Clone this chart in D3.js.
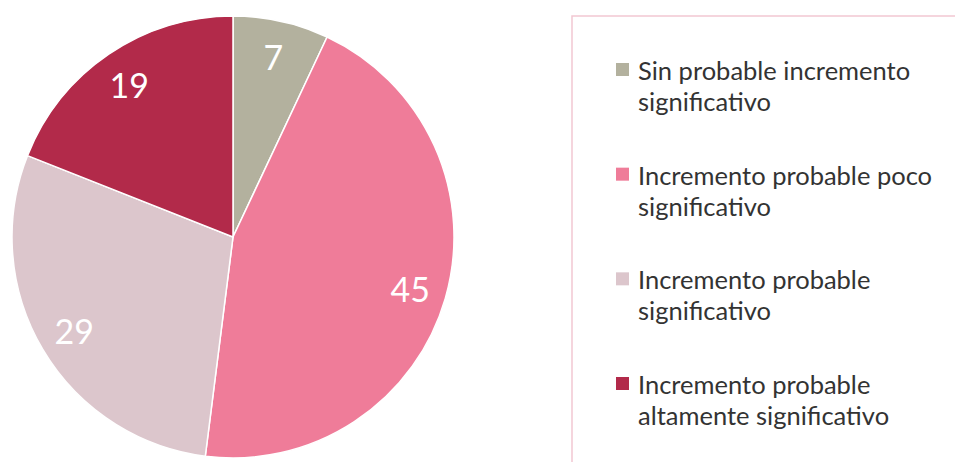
<!DOCTYPE html>
<html><head><meta charset="utf-8">
<script src="https://cdn.jsdelivr.net/npm/d3@7"></script>
<style>html,body{margin:0;padding:0;background:#fff;overflow:hidden}</style>
</head><body>
<svg id="c" width="955" height="462"></svg>
<script>
const categories = ["Sin probable incremento significativo","Incremento probable poco significativo","Incremento probable significativo","Incremento probable altamente significativo"];
const legendLines = [["Sin probable incremento","significativo"],["Incremento probable poco","significativo"],["Incremento probable","significativo"],["Incremento probable","altamente significativo"]];
const values = [7,45,29,19];
const colors = ["#b3b19e","#ef7c99","#dcc6cc","#b22a4a"];

const svg = d3.select("#c");
const cx = 233, cy = 237, R = 221;
const pie = d3.pie().sort(null).value(d=>d)(values);
const arc = d3.arc().innerRadius(0).outerRadius(R);
const labelArc = d3.arc().innerRadius(R*0.835).outerRadius(R*0.835);
const g = svg.append("g").attr("transform",`translate(${cx},${cy})`);
g.selectAll("path").data(pie).join("path")
  .attr("d",arc).attr("fill",(d,i)=>colors[i])
  .attr("stroke","#fff").attr("stroke-width",1.5);
g.selectAll("text").data(pie).join("text")
  .attr("transform",d=>`translate(${labelArc.centroid(d)})`)
  .attr("text-anchor","middle").attr("dominant-baseline","central")
  .attr("fill","#fff").attr("font-family","Lato, sans-serif").attr("font-size",34)
  .text(d=>d.data);

// legend box
svg.append("rect").attr("x",572).attr("y",16).attr("width",500).attr("height",500)
  .attr("fill","none").attr("stroke","#f2c8d2").attr("stroke-width",1.5);
const ly = d3.scalePoint().domain(d3.range(categories.length)).range([70,384]);
const lg = svg.append("g");
categories.forEach((c,i)=>{
  const y = ly(i);
  lg.append("rect").attr("x",616).attr("y",y-7).attr("width",13).attr("height",13).attr("fill",colors[i]);
  const t = lg.append("text").attr("x",638).attr("y",y).attr("dominant-baseline","central")
    .attr("font-family","Lato, sans-serif").attr("font-size",25.5).attr("fill","#333");
  legendLines[i].forEach((l,j)=>t.append("tspan").attr("x",638).attr("dy",j?31:0).text(l));
});
</script>
</body></html>
